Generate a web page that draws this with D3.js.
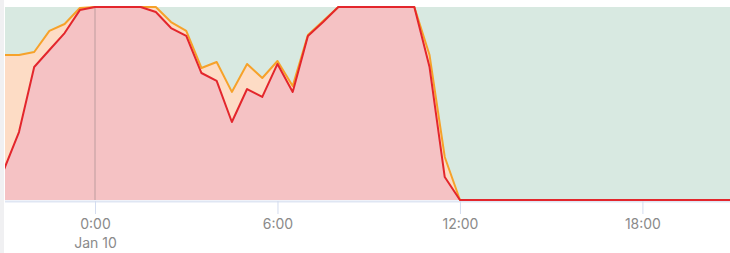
<!DOCTYPE html>
<html>
<head>
<meta charset="utf-8">
<script src="https://cdn.jsdelivr.net/npm/d3@7"></script>
<style>
	body { margin: 0; background: #fff; }
	svg { display: block; }
	.tick text { font-family: Inter, "Open Sans", sans-serif; font-size: 14px; fill: #8a8a8a; }
</style>
</head>
<body>
<div id="chart"></div>
<script>
// hours relative to 0:00 on Jan 10, one sample every 30 min
var hours = [-3, -2.5, -2, -1.5, -1, -0.5, 0, 0.5, 1, 1.5, 2, 2.5, 3, 3.5, 4, 4.5,
	5, 5.5, 6, 6.5, 7, 7.5, 8, 8.5, 9, 9.5, 10, 10.5, 11, 11.5, 12, 12.5,
	13, 13.5, 14, 14.5, 15, 15.5, 16, 16.5, 17, 17.5, 18, 18.5, 19, 19.5, 20, 20.5, 21];

// orange series (%)
var orangeValues = [75.1, 75.1, 76.7, 87.6, 91.2, 99.5, 100, 100, 100, 100, 100, 92.2,
	87.6, 68.4, 71.5, 56.0, 70.5, 63.2, 72.0, 59.1, 85.5, 92.7, 100, 100, 100, 100,
	100, 100, 75.1, 22.3, 0, 0, 0, 0, 0, 0, 0, 0, 0, 0, 0, 0, 0, 0, 0, 0, 0, 0, 0];

// red series (%)
var redValues = [15.5, 35.2, 68.9, 77.7, 86.5, 98.4, 100, 100, 100, 100, 97.4, 89.1,
	85.0, 65.8, 61.7, 40.4, 57.5, 53.4, 70.5, 56.0, 85.0, 92.2, 100, 100, 100, 100,
	100, 100, 68.9, 11.9, 0, 0, 0, 0, 0, 0, 0, 0, 0, 0, 0, 0, 0, 0, 0, 0, 0, 0, 0];

var tickHours = [0, 6, 12, 18];
var tickDates = { 0: "Jan 10" };

var width = 730, height = 253;
var plot = { left: 5, right: 730, top: 7, bottom: 200 };
var base = new Date(2024, 0, 10, 0, 0);

function toDate(h) {
	return new Date(base.getTime() + h * 3600e3);
}

var x = d3.scaleTime()
	.domain([toDate(-2.96), toDate(20.88)])
	.range([plot.left, plot.right]);

var y = d3.scaleLinear()
	.domain([0, 100])
	.range([plot.bottom, plot.top]);

var svg = d3.select("#chart").append("svg")
	.attr("width", width)
	.attr("height", height);

// thin grey strip on the left edge
svg.append("rect")
	.attr("x", 0).attr("y", 0)
	.attr("width", 4).attr("height", height)
	.attr("fill", "#f0f0f2");

svg.append("clipPath").attr("id", "plotClip")
	.append("rect")
	.attr("x", plot.left).attr("y", plot.top - 2)
	.attr("width", plot.right - plot.left).attr("height", plot.bottom - plot.top + 4);

// plot background
svg.append("rect")
	.attr("x", plot.left).attr("y", plot.top)
	.attr("width", plot.right - plot.left).attr("height", plot.bottom - plot.top)
	.attr("fill", "#d8e9e1");

var xAxis = d3.axisBottom(x)
	.tickValues(tickHours.map(toDate))
	.tickSize(13)
	.tickFormat(function(d) { return d.getHours() + ":00"; });

var axisG = svg.append("g")
	.attr("transform", "translate(0," + (plot.bottom + 1) + ")")
	.call(xAxis);

axisG.select(".domain")
	.attr("d", "M" + plot.left + ",0.5H" + plot.right)
	.attr("stroke", "#dfe6f3").attr("stroke-width", 2);
axisG.selectAll(".tick line").attr("stroke", "#d3dcef");
axisG.selectAll(".tick text").attr("y", 28).attr("dy", null);
axisG.selectAll(".tick").each(function(d, i) {
	var label = tickDates[tickHours[i]];
	if (label) {
		d3.select(this).append("text")
			.attr("y", 47)
			.attr("text-anchor", "middle")
			.text(label);
	}
});

var data = hours.map(function(h, i) {
	return { t: toDate(h), orange: orangeValues[i], red: redValues[i] };
});

var g = svg.append("g").attr("clip-path", "url(#plotClip)");

function area(key) {
	return d3.area()
		.x(function(d) { return x(d.t); })
		.y0(y(0))
		.y1(function(d) { return y(d[key]); });
}
function line(key) {
	return d3.line()
		.x(function(d) { return x(d.t); })
		.y(function(d) { return y(d[key]); });
}

g.append("path").datum(data)
	.attr("d", area("orange"))
	.attr("fill", "#fddcc5");

g.append("path").datum(data)
	.attr("d", area("red"))
	.attr("fill", "#f5c2c4");

// marker at midnight
g.append("line")
	.attr("x1", x(toDate(0))).attr("x2", x(toDate(0)))
	.attr("y1", plot.top).attr("y2", plot.bottom)
	.attr("stroke", "rgba(120,110,110,0.22)")
	.attr("stroke-width", 2);

g.append("path").datum(data)
	.attr("d", line("orange"))
	.attr("fill", "none")
	.attr("stroke", "#f6a22a")
	.attr("stroke-width", 2)
	.attr("stroke-linejoin", "round");

g.append("path").datum(data)
	.attr("d", line("red"))
	.attr("fill", "none")
	.attr("stroke", "#e3262c")
	.attr("stroke-width", 2)
	.attr("stroke-linejoin", "round");
</script>
</body>
</html>
